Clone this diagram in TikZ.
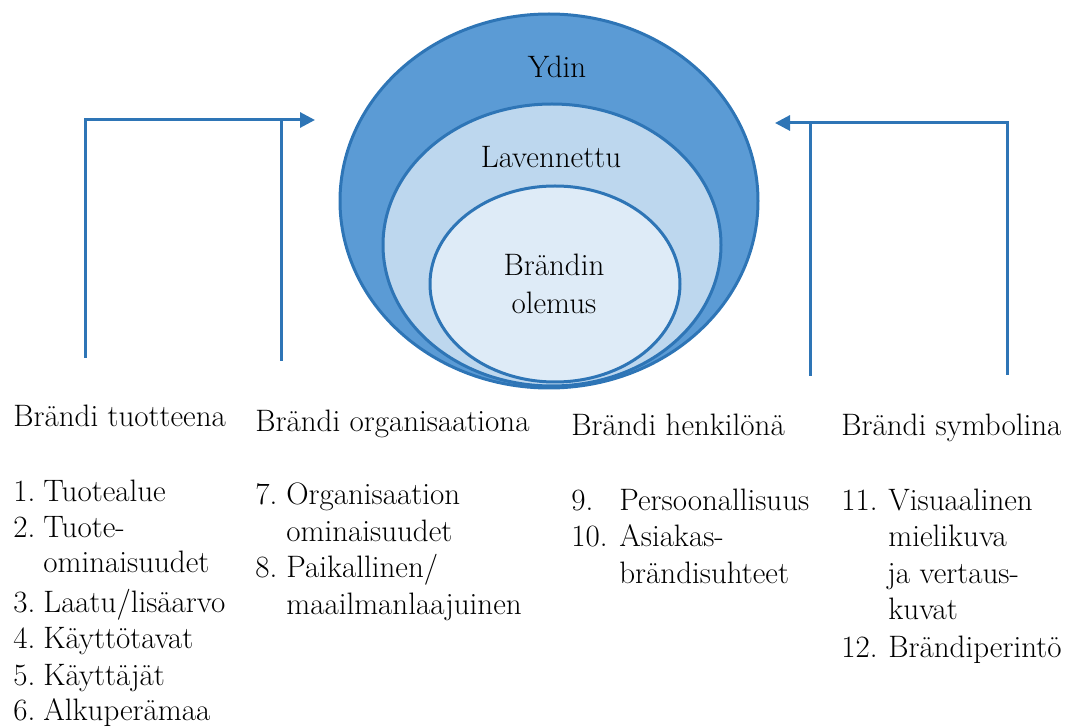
\documentclass[tikz,border=0pt]{standalone}
\usepackage{fontspec}
\usetikzlibrary{arrows.meta,shapes.geometric}
\definecolor{darkblue}{HTML}{2E75B6}
\definecolor{midblue}{HTML}{5B9BD5}
\definecolor{lightblue}{HTML}{BDD7EE}
\definecolor{paleblue}{HTML}{DEEBF7}
\newcommand\figsize{\fontsize{15.5pt}{18pt}\selectfont}

\begin{document}
\begin{tikzpicture}[x=0.5pt, y=-0.5pt,
%overlay,
every node/.style={inner sep=0pt, font=\figsize},
ring/.style={ellipse, draw=darkblue, line width=1.5pt},
flow/.style={draw=darkblue, line width=1.5pt},
txt/.style={anchor=base west}
]
\useasboundingbox (0,0) rectangle (1078,727);

\node (ydin) [ring, fill=midblue, minimum width=209pt, minimum height=187pt] at (549,201) {};
\node (lav) [ring, fill=lightblue, minimum width=169pt, minimum height=141pt] at (552,245) {};
\node (olemus) [ring, fill=paleblue, minimum width=125pt, minimum height=98pt] at (555,284) {};

\node (t-ydin) [anchor=base] at (557,78) {Ydin};
\node (t-lav) [anchor=base] at (551,168) {Lavennettu};
\node (t-bra) [anchor=base] at (554,276) {Brändin};
\node (t-ole) [anchor=base] at (554,314) {olemus};

\coordinate (a1) at (85,358);
\coordinate (a2) at (85,120);
\coordinate (a3) at (315,120);
\coordinate (a4) at (281,361);
\coordinate (a5) at (281,120);
\coordinate (b1) at (1007,375);
\coordinate (b2) at (1007,123);
\coordinate (b3) at (775,123);
\coordinate (b4) at (810,376);
\coordinate (b5) at (810,123);

\draw [flow, -{Triangle[length=7.5pt,width=7.5pt]}] (a1) -- (a2) -- (a3);
\draw [flow] (a4) -- (a5);
\draw [flow, -{Triangle[length=7.5pt,width=7.5pt]}] (b1) -- (b2) -- (b3);
\draw [flow] (b4) -- (b5);

\foreach \xx/\yy/\hd [count=\i] in {
                    13/427/Brändi tuotteena,
                    255/432/Brändi organisaationa,
                    571/436/Brändi henkilönä,
                    841/436/Brändi symbolina%
            }
    \node (h\i) [txt] at (\xx,\yy) {\hd};

\foreach \xx/\yy/\nr [count=\i] in {
                    13/502/1., 13/538/2., 13/612/3., 13/648/4., 13/685/5., 13/720/6.,
                    255/505/7., 255/578/8.,
                    571/511/9., 571/547/10.,
                    841/511/11., 841/657/12.%
            }
    \node (nr\i) [txt] at (\xx,\yy) {\nr};

\foreach \xx/\yy/\txt [count=\i] in {
                    43/502/Tuotealue, 43/538/Tuote-, 43/573/ominaisuudet,
                    43/612/{Laatu/lisäarvo}, 43/648/Käyttötavat, 43/685/Käyttäjät,
                    43/720/Alkuperämaa,
                    286/505/Organisaation, 286/542/ominaisuudet,
                    286/578/{Paikallinen/}, 286/615/maailmanlaajuinen,
                    619/511/Persoonallisuus, 619/547/Asiakas-, 619/583/brändisuhteet,
                    888/511/Visuaalinen, 888/547/mielikuva, 887/583/ja vertaus-,
                    888/619/kuvat, 888/657/Brändiperintö%
            }
    \node (it\i) [txt] at (\xx,\yy) {\txt};

\end{tikzpicture}
\end{document}
